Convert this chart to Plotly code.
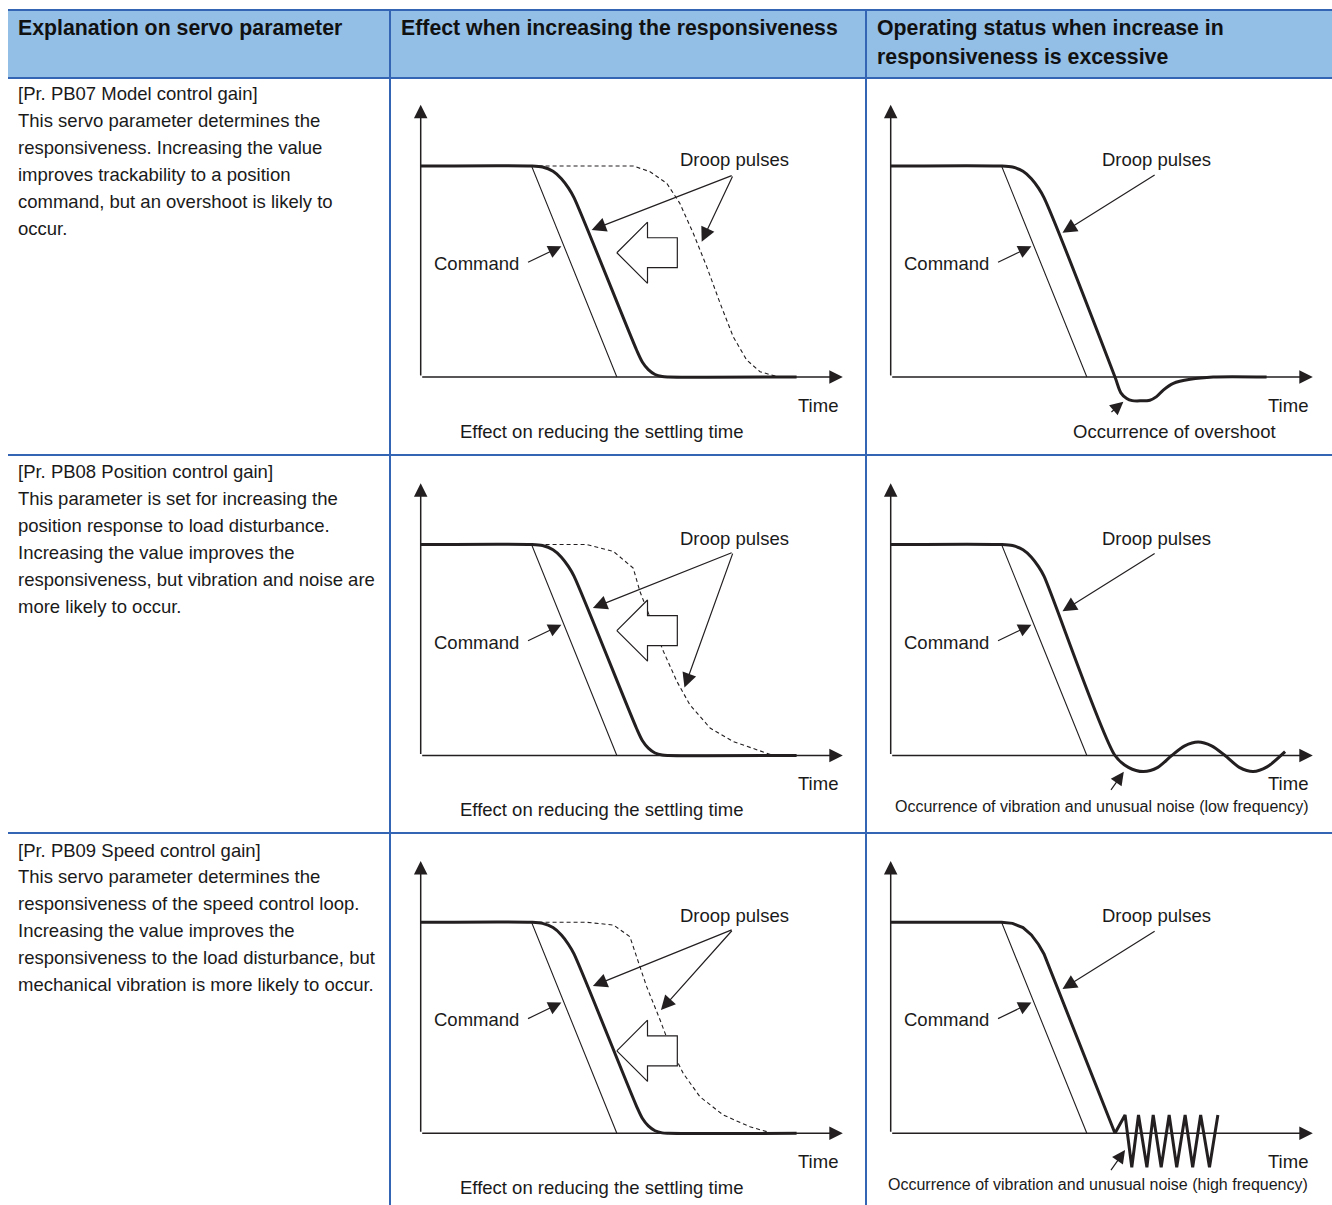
import plotly.graph_objects as go

W, H = 1332, 1205
INK = "#231f20"
TEXT = "#1a1a1a"
BORDER = "#3464b4"
HEADER_FILL = "#93bee6"
FONT = "Liberation Sans, Arial, sans-serif"

# ---- table text ----
header_lines = [
    ["Explanation on servo parameter"],
    ["Effect when increasing the responsiveness"],
    ["Operating status when increase in", "responsiveness is excessive"],
]
param_lines = [
    ["[Pr. PB07 Model control gain]",
     "This servo parameter determines the",
     "responsiveness. Increasing the value",
     "improves trackability to a position",
     "command, but an overshoot is likely to",
     "occur."],
    ["[Pr. PB08 Position control gain]",
     "This parameter is set for increasing the",
     "position response to load disturbance.",
     "Increasing the value improves the",
     "responsiveness, but vibration and noise are",
     "more likely to occur."],
    ["[Pr. PB09 Speed control gain]",
     "This servo parameter determines the",
     "responsiveness of the speed control loop.",
     "Increasing the value improves the",
     "responsiveness to the load disturbance, but",
     "mechanical vibration is more likely to occur."],
]
effect_caption = "Effect on reducing the settling time"
excess_captions = [
    "Occurrence of overshoot",
    "Occurrence of vibration and unusual noise (low frequency)",
    "Occurrence of vibration and unusual noise (high frequency)",
]

# ---- diagram data (time units, position level 0..1) ----
cmd_t = [0, 26.4, 46.7]
cmd_v = [1, 1, 0]

top_t = [0, 26.4, 29, 31.5, 33.5, 35.2, 36.5]
top_v = [1, 1, 0.995, 0.975, 0.94, 0.895, 0.85]

# improved response (middle column)
fast_t = top_t + [51.4, 52.8, 54.2, 55.8, 57.5, 59.0, 89.5]
fast_v = top_v + [0.128, 0.07, 0.035, 0.012, 0.002, 0, 0]

# previous (slow) response, dashed, one per row
slow_t = [
    [26.4, 50.6, 54.6, 58.6, 61.7, 64.9, 68.1, 71.3, 74.4, 77.6, 80.8, 84.8, 86.6],
    [26.4, 39.5, 45.9, 50.6, 52.2, 55.4, 57.8, 61.0, 64.1, 68.9, 74.4, 82.4, 84.0],
    [26.4, 39.5, 45.9, 49.8, 51.4, 53.8, 57.0, 59.4, 62.5, 66.5, 72.0, 78.4, 83.2, 84.0],
]
slow_v = [
    [1, 1, 0.973, 0.918, 0.823, 0.681, 0.523, 0.349, 0.191, 0.081, 0.025, 0.002, 0],
    [1, 1, 0.967, 0.888, 0.777, 0.619, 0.493, 0.351, 0.240, 0.130, 0.066, 0.011, 0],
    [1, 1, 0.987, 0.932, 0.837, 0.695, 0.537, 0.410, 0.284, 0.173, 0.087, 0.031, 0.003, 0],
]

# excessive responsiveness (right column)
over_t = top_t + [53.4, 54.8, 56.2, 57.5, 59.5, 61.7, 63.3, 64.9, 67.3, 71.3, 76.8, 89.5]
over_v = top_v + [0, -0.075, -0.102, -0.112, -0.113, -0.110, -0.093, -0.062, -0.030, -0.011, 0, 0]

low_t = top_t + [53.4, 56.6, 60.2, 63.6, 66.9, 70.0, 73.2, 76.4, 79.6, 83.0, 86.3, 89.6, 93.9]
low_v = top_v + [0, -0.056, -0.076, -0.056, 0, 0.046, 0.064, 0.046, 0, -0.056, -0.076, -0.054,
                 0.018]

high_t = top_t + [53.4, 55.8, 57.4, 59.0, 61.0, 62.5, 64.4, 66.3, 68.1, 70.1, 71.9, 73.8,
                  75.9, 77.9]
high_v = top_v + [0, 0.087, -0.161, 0.087, -0.161, 0.087, -0.161, 0.087, -0.161, 0.087,
                  -0.161, 0.087, -0.161, 0.087]

# big hollow arrow (pointing left) in the middle column
hollow_t = [46.7, 54.0, 54.0, 61.1, 61.1, 54.0, 54.0, 46.7]
hollow_dv = [0, 0.145, 0.071, 0.071, -0.071, -0.071, -0.145, 0]
hollow_center = [0.589, 0.592, 0.391]

# label arrows: (start t, start v) -> list of (end t, end v)
droop_mid = [
    ((74.4, 0.957), [(40.7, 0.697), (66.9, 0.641)]),
    ((74.4, 0.964), [(41.0, 0.699), (62.8, 0.322)]),
    ((74.4, 0.967), [(41.0, 0.698), (57.2, 0.584)]),
]
droop_right = ((63.2, 0.962), [(40.9, 0.684)])
cmd_arrow = ((25.2, 0.54), (33.5, 0.62))
excess_arrow = [((52.2, -0.172), (55.4, -0.117)),
                ((52.2, -0.170), (55.5, -0.077)),
                ((52.2, -0.182), (55.8, -0.079))]
excess_caption_pos = [(67.5, -0.259, 18.5), (50.4, -0.244, 16), (49.3, -0.244, 16)]

# ---- panel geometry ----
col_origin = [420.7, 890.7]
row_origin = [377, 755.5, 1133.3]
SX, SY = 4.2, 211.0
T_RANGE = [-8, 104]
V_RANGE = [-0.33, 1.38]

fig = go.Figure()
layout = dict(width=W, height=H, margin=dict(l=0, r=0, t=0, b=0),
              paper_bgcolor="white", plot_bgcolor="rgba(0,0,0,0)",
              showlegend=False, font=dict(family=FONT, color=TEXT))
annotations = []
shapes = []


def line(idx, t, v, width, dash=None, fill=None):
    fig.add_trace(go.Scatter(
        x=t, y=v, mode="lines", xaxis="x%d" % idx, yaxis="y%d" % idx,
        line=dict(color=INK, width=width, dash=dash, shape="linear"),
        fill=fill, fillcolor="white", hoverinfo="skip"))


def smooth(idx, t, v, width):
    fig.add_trace(go.Scatter(
        x=t, y=v, mode="lines", xaxis="x%d" % idx, yaxis="y%d" % idx,
        line=dict(color=INK, width=width, shape="spline", smoothing=0.8),
        hoverinfo="skip"))


def arrow(idx, start, end, width=1.2, size=2.4):
    annotations.append(dict(
        x=end[0], y=end[1], ax=start[0], ay=start[1], text="",
        xref="x%d" % idx, yref="y%d" % idx, axref="x%d" % idx, ayref="y%d" % idx,
        showarrow=True, arrowhead=2, arrowsize=size, arrowwidth=width,
        arrowcolor=INK, standoff=0))


def label(idx, t, v, text, size=18.5):
    annotations.append(dict(
        x=t, y=v, xref="x%d" % idx, yref="y%d" % idx, text=text, showarrow=False,
        font=dict(size=size, color=TEXT, family=FONT), xanchor="center", yanchor="middle"))


for r in range(3):
    for c in range(2):
        idx = r * 2 + c + 1
        ox, oy = col_origin[c], row_origin[r]
        x0 = (ox + T_RANGE[0] * SX) / W
        x1 = (ox + T_RANGE[1] * SX) / W
        y0 = 1 - (oy - V_RANGE[0] * SY) / H
        y1 = 1 - (oy - V_RANGE[1] * SY) / H
        xa = "xaxis" if idx == 1 else "xaxis%d" % idx
        ya = "yaxis" if idx == 1 else "yaxis%d" % idx
        layout[xa] = dict(domain=[x0, x1], range=T_RANGE, visible=False,
                          anchor="y%d" % idx if idx > 1 else "y", fixedrange=True)
        layout[ya] = dict(domain=[y0, y1], range=V_RANGE, visible=False,
                          anchor="x%d" % idx if idx > 1 else "x", fixedrange=True)

        # coordinate axes with arrowheads
        arrow(idx, (0, 0), (100.5, 0), width=1.5, size=1.8)
        arrow(idx, (0, 0), (0, 1.29), width=1.5, size=1.8)

        # command
        line(idx, cmd_t, cmd_v, 1.1)

        if c == 0:
            line(idx, slow_t[r], slow_v[r], 1.1, dash="4px,3px")
            smooth(idx, fast_t, fast_v, 3)
            hv = [hollow_center[r] + d for d in hollow_dv]
            line(idx, hollow_t, hv, 1.2, fill="toself")
            start, ends = droop_mid[r]
            for e in ends:
                arrow(idx, start, e)
            label(idx, 74.8, 1.03, "Droop pulses")
            label(idx, 43.1, -0.257, effect_caption)
        else:
            if r == 0:
                smooth(idx, over_t, over_v, 3)
            elif r == 1:
                smooth(idx, low_t, low_v, 3)
            else:
                line(idx, high_t, high_v, 3)
            start, ends = droop_right
            for e in ends:
                arrow(idx, start, e)
            label(idx, 63.3, 1.03, "Droop pulses")
            s, e = excess_arrow[r]
            arrow(idx, s, e, width=1.2, size=2.2)
            ct, cv, cs = excess_caption_pos[r]
            label(idx, ct, cv, excess_captions[r], size=cs)

        s, e = cmd_arrow
        arrow(idx, s, e, width=1.2, size=2.2)
        label(idx, 13.4, 0.537, "Command")
        label(idx, 94.6, -0.133, "Time")


# ---- table frame ----
def px(x):
    return x / W


def py(y):
    return 1 - y / H


shapes.append(dict(type="rect", xref="paper", yref="paper", x0=px(8), x1=1,
                   y0=py(78), y1=py(10), fillcolor=HEADER_FILL, line=dict(width=0),
                   layer="below"))
for y in [10, 78, 455, 833]:
    shapes.append(dict(type="line", xref="paper", yref="paper", x0=px(8), x1=1,
                       y0=py(y), y1=py(y), line=dict(color=BORDER, width=2)))
for x in [390, 866]:
    shapes.append(dict(type="line", xref="paper", yref="paper", x0=px(x), x1=px(x),
                       y0=py(1205), y1=py(10), line=dict(color=BORDER, width=2)))

header_x = [16, 399, 875]
for hx, lines_ in zip(header_x, header_lines):
    for i, t in enumerate(lines_):
        annotations.append(dict(x=px(hx), y=py(28 + 29 * i), xref="paper", yref="paper",
                                text="<b>%s</b>" % t, showarrow=False, xanchor="left",
                                yanchor="middle", font=dict(size=21.3, color="#111111",
                                                            family=FONT)))

row_text_top = [94, 472, 850]
for top, lines_ in zip(row_text_top, param_lines):
    for i, t in enumerate(lines_):
        annotations.append(dict(x=px(16), y=py(top + 26.85 * i), xref="paper",
                                yref="paper", text=t, showarrow=False, xanchor="left",
                                yanchor="middle", font=dict(size=18.5, color=TEXT,
                                                            family=FONT)))

layout["annotations"] = annotations
layout["shapes"] = shapes
fig.update_layout(**layout)
fig.write_html("out.html", config={"displayModeBar": False},
               post_script="document.body.style.margin='0px';")
